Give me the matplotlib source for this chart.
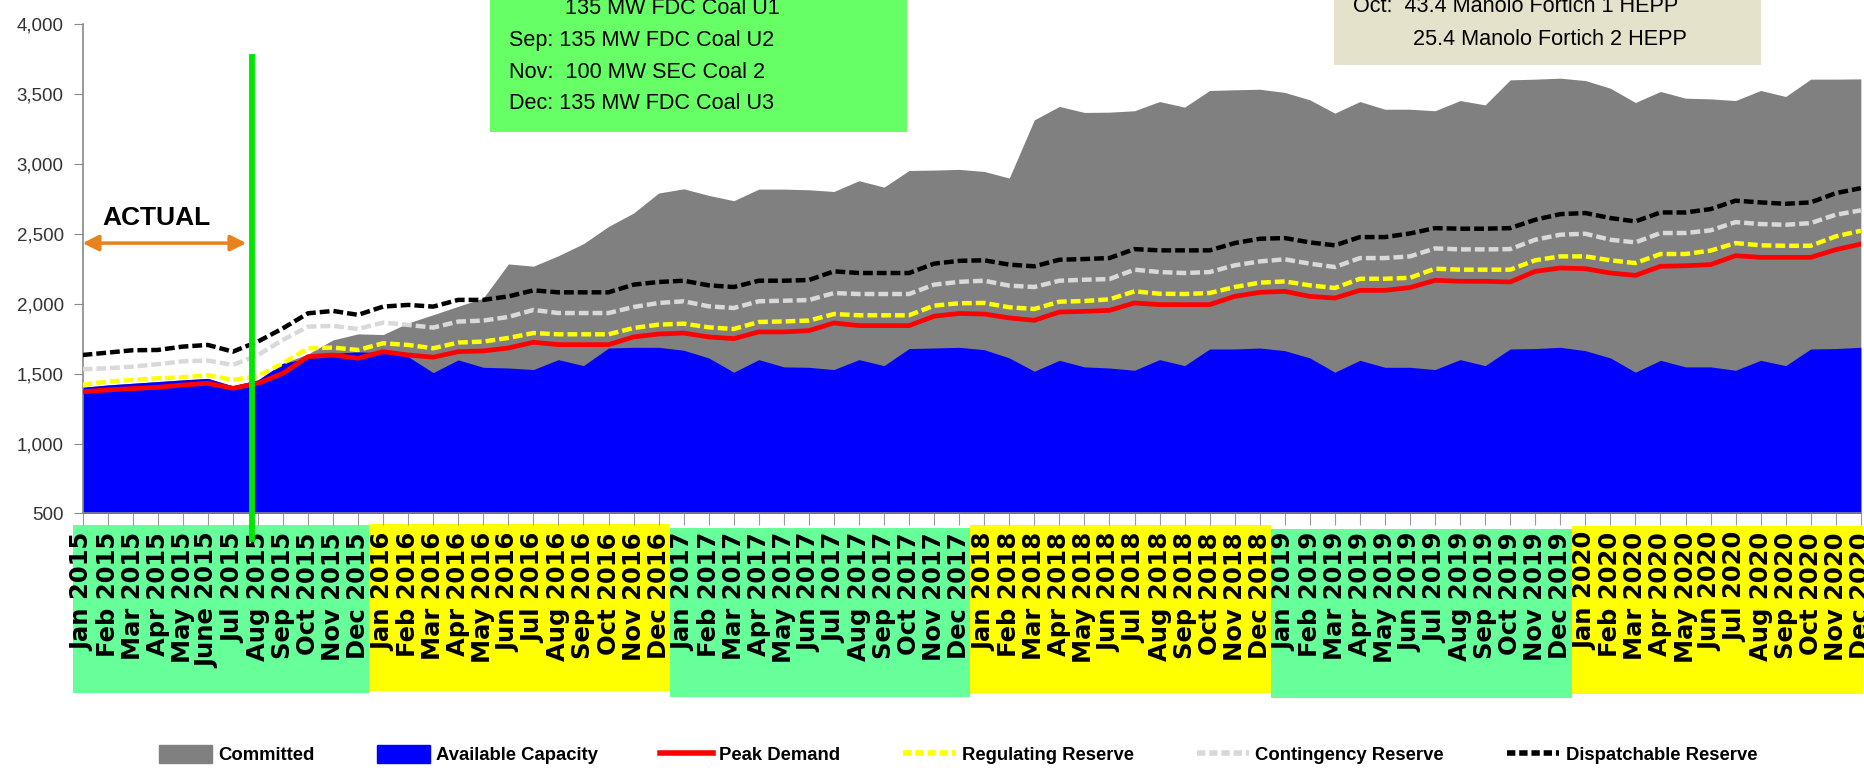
import matplotlib
matplotlib.use("Agg")
import matplotlib.pyplot as plt
from matplotlib.patches import Rectangle, Patch
from matplotlib.lines import Line2D

# months Jan 2015 - Dec 2020
months = ["Jan", "Feb", "Mar", "Apr", "May", "Jun", "Jul", "Aug", "Sep", "Oct", "Nov", "Dec"]
years = [2015, 2016, 2017, 2018, 2019, 2020]
labels = [f"{m} {y}" for y in years for m in months]
labels[5] = "June 2015"

# committed capacity (top of grey area, MW)
committed = [1402, 1419, 1431, 1443, 1455, 1466, 1412, 1455, 1574, 1640, 1741, 1784,
             1779, 1862, 1921, 1981, 2040, 2284, 2268, 2343, 2429, 2552, 2648, 2791,
             2821, 2774, 2736, 2819, 2819, 2814, 2802, 2879, 2833, 2952, 2955, 2960,
             2945, 2898, 3314, 3410, 3367, 3369, 3379, 3445, 3405, 3524, 3529, 3533,
             3510, 3457, 3362, 3445, 3390, 3390, 3379, 3452, 3421, 3600, 3605, 3612,
             3595, 3540, 3438, 3517, 3469, 3464, 3452, 3524, 3481, 3605, 3605, 3607]

available = [1402, 1419, 1431, 1443, 1455, 1466, 1412, 1455, 1574, 1610, 1645, 1655,
             1650, 1621, 1507, 1598, 1545, 1540, 1529, 1600, 1557, 1683, 1688, 1688,
             1667, 1612, 1510, 1600, 1548, 1545, 1529, 1600, 1557, 1679, 1683, 1688,
             1671, 1612, 1517, 1595, 1548, 1540, 1524, 1600, 1557, 1676, 1676, 1683,
             1664, 1612, 1510, 1595, 1545, 1545, 1529, 1600, 1557, 1676, 1679, 1688,
             1664, 1612, 1510, 1595, 1548, 1548, 1524, 1595, 1557, 1676, 1679, 1688]

peak = [1371, 1383, 1393, 1402, 1419, 1431, 1395, 1431, 1502, 1621, 1633, 1610,
        1657, 1633, 1617, 1657, 1662, 1683, 1724, 1707, 1707, 1707, 1762, 1783,
        1790, 1762, 1750, 1798, 1798, 1807, 1862, 1843, 1843, 1843, 1910, 1930,
        1926, 1898, 1881, 1940, 1945, 1952, 2005, 1993, 1993, 1993, 2052, 2081,
        2088, 2052, 2040, 2095, 2095, 2115, 2167, 2160, 2160, 2155, 2231, 2255,
        2250, 2219, 2202, 2267, 2271, 2279, 2343, 2331, 2331, 2331, 2386, 2426]

regulating = [1419, 1443, 1455, 1466, 1474, 1488, 1455, 1483, 1574, 1681, 1686, 1669,
              1717, 1705, 1681, 1722, 1729, 1755, 1790, 1781, 1781, 1781, 1826, 1850,
              1857, 1831, 1819, 1869, 1873, 1879, 1926, 1917, 1917, 1917, 1986, 2003,
              2005, 1974, 1962, 2014, 2019, 2031, 2088, 2071, 2069, 2076, 2119, 2150,
              2159, 2131, 2112, 2178, 2178, 2185, 2250, 2243, 2243, 2243, 2310, 2338,
              2338, 2310, 2290, 2355, 2355, 2379, 2433, 2417, 2414, 2414, 2481, 2521]

contingency = [1531, 1538, 1550, 1567, 1588, 1593, 1562, 1633, 1741, 1836, 1841, 1819,
               1865, 1848, 1829, 1872, 1879, 1905, 1955, 1933, 1933, 1933, 1976, 2005,
               2017, 1981, 1969, 2017, 2021, 2026, 2076, 2069, 2069, 2069, 2136, 2156,
               2164, 2129, 2119, 2164, 2171, 2176, 2243, 2226, 2219, 2226, 2274, 2302,
               2317, 2286, 2262, 2326, 2326, 2338, 2395, 2388, 2388, 2390, 2457, 2493,
               2500, 2457, 2438, 2505, 2505, 2524, 2583, 2569, 2564, 2576, 2636, 2667]

dispatchable = [1633, 1650, 1667, 1669, 1693, 1705, 1657, 1729, 1824, 1931, 1948, 1920,
                1979, 1991, 1979, 2027, 2027, 2052, 2095, 2081, 2081, 2081, 2136, 2155,
                2164, 2131, 2119, 2164, 2164, 2169, 2231, 2219, 2219, 2219, 2286, 2306,
                2310, 2279, 2267, 2314, 2319, 2326, 2390, 2381, 2381, 2381, 2433, 2464,
                2469, 2438, 2417, 2476, 2476, 2502, 2540, 2536, 2536, 2540, 2600, 2640,
                2648, 2612, 2588, 2652, 2652, 2676, 2736, 2724, 2714, 2724, 2790, 2826]

x = list(range(len(labels)))
sans = ["Liberation Sans", "DejaVu Sans"]

fig = plt.figure(figsize=(18.64, 7.71), dpi=100)
ax = fig.add_axes([0.0443, 0.334, 0.954, 0.635])

# areas
ax.fill_between(x, 500, committed, color="#808080", lw=0, zorder=1)
ax.fill_between(x, 500, available, color="#0000FF", lw=0, zorder=2)

# reserve / demand lines
dash = (0, (2.2, 0.9))
ax.plot(x, peak, color="#FF0000", lw=3.4, zorder=3)
ax.plot(x, regulating, color="#FFFF00", lw=3.2, ls=dash, zorder=4)
ax.plot(x, contingency, color="#D9D9D9", lw=3.2, ls=dash, zorder=4)
ax.plot(x, dispatchable, color="#000000", lw=3.2, ls=dash, zorder=4)

ax.set_xlim(0, 71)
ax.set_ylim(500, 4000)
ax.set_yticks(range(500, 4001, 500))
ax.set_yticklabels([f"{v:,}" for v in range(500, 4001, 500)], family=sans, fontsize=13.5, color="#333333")
ax.set_xticks(x)
ax.set_xticklabels(labels, rotation=90, fontsize=17.5, fontweight="bold", family="DejaVu Sans")
ax.tick_params(axis="y", length=6.5, color="#888888", pad=7)
ax.tick_params(axis="x", length=8.5, color="#999999", pad=5)
for s in ["top", "right"]:
    ax.spines[s].set_visible(False)
for s in ["left", "bottom"]:
    ax.spines[s].set_color("#888888")
    ax.spines[s].set_linewidth(1.2)

# coloured year bands behind the tick labels
band_colors = ["#66FF99", "#FFFF00"]
band_tops = [-0.024, -0.022, -0.03, -0.024, -0.032, -0.026]
band_bottoms = [-0.367, -0.362, -0.375, -0.366, -0.376, -0.369]
trans = ax.get_xaxis_transform()
for k in range(len(years)):
    left = max(12 * k - 0.55, -0.38)
    right = min(12 * k + 11.45, 71.1)
    ax.add_patch(Rectangle((left, band_bottoms[k]), right - left, band_tops[k] - band_bottoms[k],
                           transform=trans, color=band_colors[k % 2], clip_on=False, zorder=0, lw=0))

# actual / forecast divider
ax.plot([6.75, 6.75], [-0.053, 0.933], transform=trans, color="#00E600", lw=4.2,
        clip_on=False, zorder=10)
ax.annotate("", xy=(0, 2433), xytext=(6.54, 2433),
            arrowprops=dict(arrowstyle="<|-|>", color="#E8821E", lw=2.5, mutation_scale=24,
                            shrinkA=0, shrinkB=0), zorder=10)
ax.text(2.95, 2611, "ACTUAL", ha="center", va="center", fontsize=19, fontweight="bold",
        family=sans, zorder=10)

# annotation boxes at top (cut off by the page edge)
fig.patches.append(Rectangle((0.2629, 0.8288), 0.2237, 0.2, transform=fig.transFigure,
                             color="#66FF66", lw=0, zorder=0))
fig.patches.append(Rectangle((0.7157, 0.9157), 0.229, 0.1, transform=fig.transFigure,
                             color="#E4E2CA", lw=0, zorder=0))
box_font = dict(family=sans, fontsize=15.6, va="center", ha="left")
fig.text(565 / 1864, 0.989, "135 MW FDC Coal U1", **box_font)
fig.text(509 / 1864, 0.948, "Sep: 135 MW FDC Coal U2", **box_font)
fig.text(509 / 1864, 0.9066, "Nov:  100 MW SEC Coal 2", **box_font)
fig.text(509 / 1864, 0.8664, "Dec: 135 MW FDC Coal U3", **box_font)
fig.text(1353 / 1864, 0.991, "Oct:  43.4 Manolo Fortich 1 HEPP", **box_font)
fig.text(1413 / 1864, 0.949, "25.4 Manolo Fortich 2 HEPP", **box_font)

# legend
handles = [
    Patch(color="#808080", label="Committed"),
    Patch(color="#0000FF", label="Available Capacity"),
    Line2D([], [], color="#FF0000", lw=4, label="Peak Demand"),
    Line2D([], [], color="#FFFF00", lw=4, ls=(0, (1.5, 0.7)), label="Regulating Reserve"),
    Line2D([], [], color="#D9D9D9", lw=4, ls=(0, (1.5, 0.7)), label="Contingency Reserve"),
    Line2D([], [], color="#000000", lw=4, ls=(0, (1.5, 0.7)), label="Dispatchable Reserve"),
]
fig.legend(handles=handles, loc="center", bbox_to_anchor=(0.514, 0.021), ncol=6, frameon=False,
           prop=dict(family=sans, weight="bold", size=13.3), handlelength=2.85,
           handleheight=1.1, handletextpad=0.33, columnspacing=3.4)

fig.savefig("out.png", dpi=100)
